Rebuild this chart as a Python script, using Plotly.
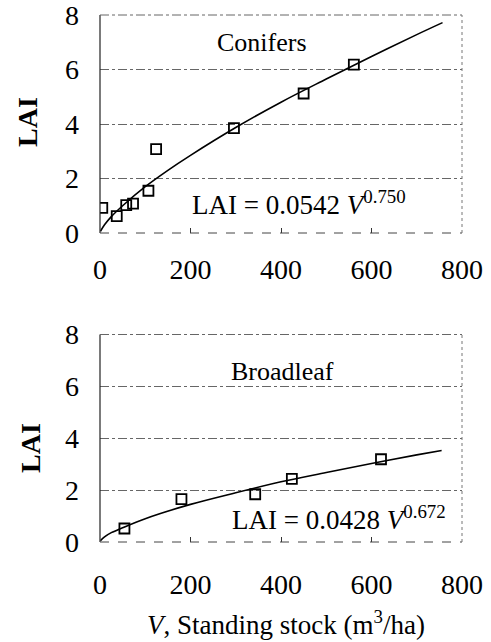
import plotly.graph_objects as go

# Conifers data
con_v = [5, 37, 58, 73, 107, 124, 296, 450, 561]
con_lai = [0.92, 0.62, 1.02, 1.08, 1.55, 3.08, 3.85, 5.12, 6.18]
# fitted curve
con_fit_v = [1, 10, 25, 50, 100, 150, 200, 300, 400, 500, 600, 700, 757]
con_fit_lai = [0.06, 0.3, 0.6, 1.0, 1.7, 2.3, 2.85, 3.87, 4.8, 5.65, 6.48, 7.28, 7.72]

# Broadleaf data
brd_v = [54, 180, 343, 424, 621]
brd_lai = [0.52, 1.65, 1.84, 2.43, 3.19]
brd_fit_v = [1, 10, 25, 50, 100, 200, 300, 400, 500, 600, 700, 755]
brd_fit_lai = [0.05, 0.2, 0.36, 0.55, 0.9, 1.45, 1.9, 2.32, 2.68, 3.03, 3.36, 3.53]

x_ticks = [0, 200, 400, 600, 800]
y_ticks = [0, 2, 4, 6, 8]

FONT = "Liberation Serif"
fig = go.Figure()

fig.add_trace(go.Scatter(x=con_fit_v, y=con_fit_lai, mode="lines", line=dict(color="black", width=1.6, shape="spline"),
                         xaxis="x", yaxis="y", showlegend=False))
fig.add_trace(go.Scatter(x=con_v, y=con_lai, mode="markers",
                         marker=dict(symbol="square-open", size=10, color="black", line=dict(width=1.8)),
                         xaxis="x", yaxis="y", showlegend=False))
fig.add_trace(go.Scatter(x=brd_fit_v, y=brd_fit_lai, mode="lines", line=dict(color="black", width=1.6, shape="spline"),
                         xaxis="x2", yaxis="y2", showlegend=False))
fig.add_trace(go.Scatter(x=brd_v, y=brd_lai, mode="markers",
                         marker=dict(symbol="square-open", size=10, color="black", line=dict(width=1.8)),
                         xaxis="x2", yaxis="y2", showlegend=False))

W, H = 491, 642
xd = [100 / W, 462 / W]
yd1 = [1 - 233 / H, 1 - 15 / H]
yd2 = [1 - 542 / H, 1 - 334.5 / H]

xaxis_common = dict(range=[0, 800], tickvals=x_ticks, ticks="inside", ticklen=5, tickcolor="#333",
                    showgrid=False, zeroline=False, showline=False, automargin=False,
                    ticklabeloverflow="allow",
                    tickfont=dict(family=FONT, size=28, color="black"), domain=xd)
yaxis_common = dict(range=[0, 8], tickvals=y_ticks, ticks="", showgrid=True, gridcolor="#666",
                    griddash="dashdot", gridwidth=1, zeroline=False, showline=False, automargin=False,
                    ticklabeloverflow="allow",
                    tickfont=dict(family=FONT, size=28, color="black"), ticklabelstandoff=20)

fig.update_layout(
    width=W, height=H, margin=dict(l=0, r=0, t=0, b=0, autoexpand=False),
    paper_bgcolor="white", plot_bgcolor="white",
    xaxis=dict(**xaxis_common, anchor="y", ticklabelstandoff=17),
    yaxis=dict(**yaxis_common, domain=yd1, anchor="x"),
    xaxis2=dict(**xaxis_common, anchor="y2", ticklabelstandoff=23),
    yaxis2=dict(**yaxis_common, domain=yd2, anchor="x2"),
)

shapes = []
for xr, yr in [("x", "y"), ("x2", "y2")]:
    shapes.append(dict(type="line", xref=f"{xr} domain", yref=f"{yr} domain", x0=0, x1=0, y0=0, y1=1,
                       line=dict(color="#222", width=1.2)))
    shapes.append(dict(type="line", xref=f"{xr} domain", yref=f"{yr} domain", x0=0, x1=1, y0=0, y1=0,
                       line=dict(color="#444", width=1, dash="dash")))
    shapes.append(dict(type="line", xref=f"{xr} domain", yref=f"{yr} domain", x0=0, x1=1, y0=1, y1=1,
                       line=dict(color="#666", width=1, dash="dashdot")))
    shapes.append(dict(type="line", xref=f"{xr} domain", yref=f"{yr} domain", x0=1, x1=1, y0=0, y1=1,
                       line=dict(color="#777", width=1, dash="dot")))
fig.update_layout(shapes=shapes)


def A(text, x, y, size, **kw):
    d = dict(text=text, x=x / W, y=1 - y / H, xref="paper", yref="paper", showarrow=False,
             xanchor="center", yanchor="middle", font=dict(family=FONT, size=size, color="black"))
    d.update(kw)
    return d


ann = [
    A("<b>LAI</b>", 27, 122, 28, textangle=-90),
    A("<b>LAI</b>", 30, 448, 28, textangle=-90),
    A("Conifers", 262, 43, 26),
    A("Broadleaf", 282, 372, 26),
    A("LAI = 0.0542 <i>V</i><sup>0.750</sup>", 190, 203, 27, xanchor="left"),
    A("LAI = 0.0428 <i>V</i><sup>0.672</sup>", 230, 518, 27, xanchor="left"),
    A("<i>V</i>, Standing stock (m<sup>3</sup>/ha)", 286, 623, 27),
]
fig.update_layout(annotations=ann)

fig.write_html("out.html", config={"displayModeBar": False},
               post_script="document.body.style.margin='0px';")
